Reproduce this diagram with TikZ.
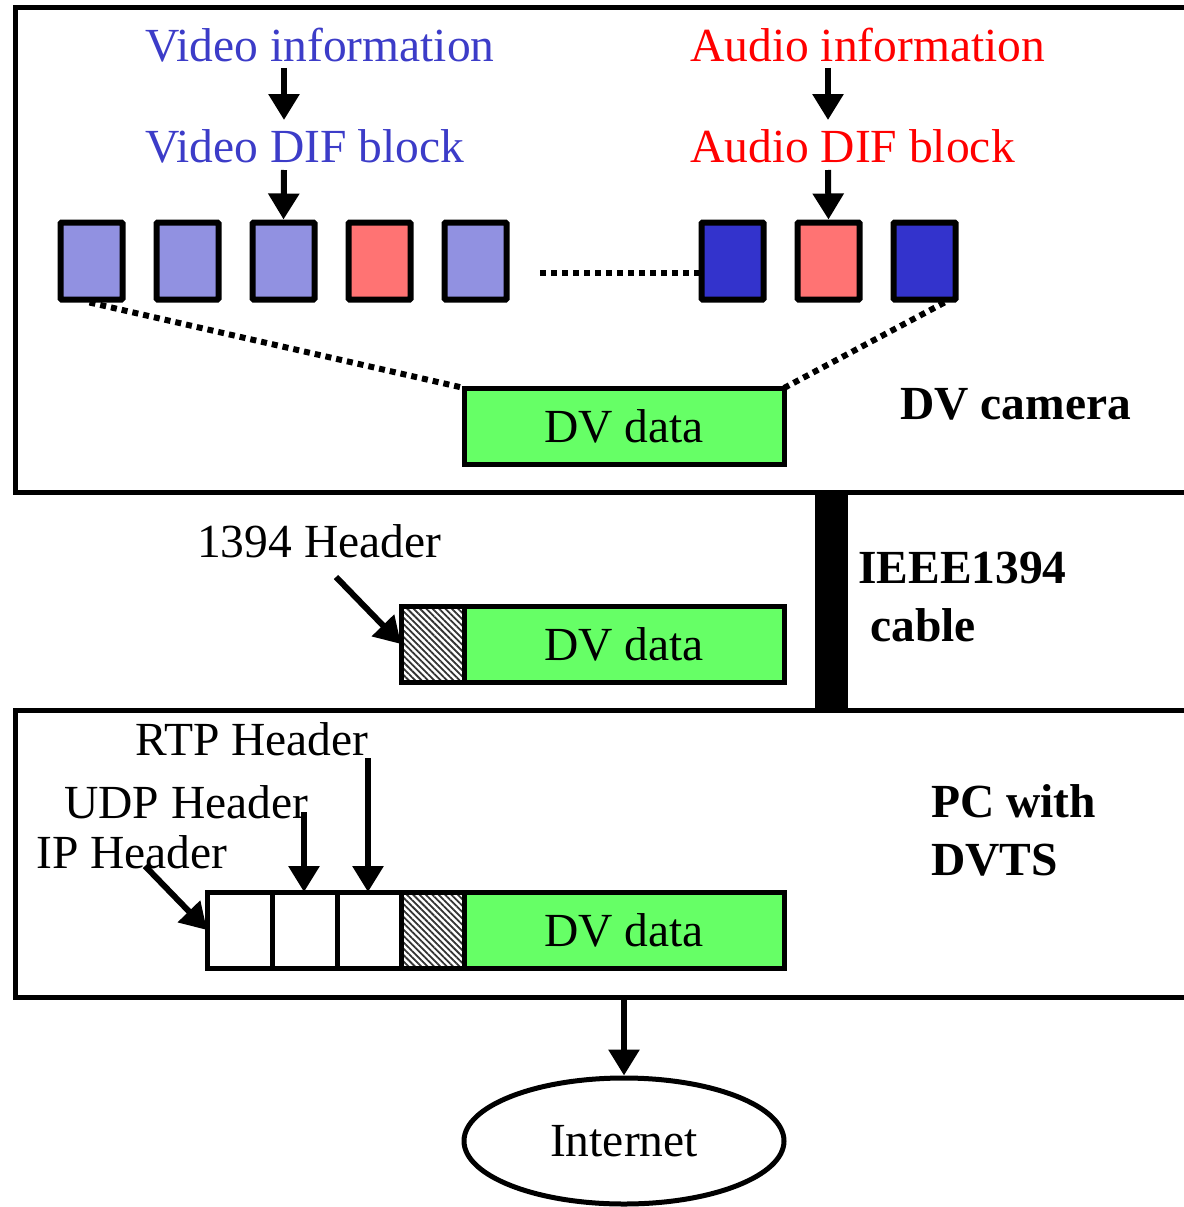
\documentclass[tikz,border=0pt]{standalone}
\usepackage{fontspec}
\setmainfont{Liberation Serif}
\usetikzlibrary{arrows.meta,patterns.meta,shapes.geometric}
\definecolor{vidblue}{RGB}{60,60,200}
\definecolor{dkblue}{RGB}{51,51,204}
\definecolor{ltblue}{RGB}{145,145,225}
\definecolor{ltred}{RGB}{255,115,115}
\definecolor{dvgreen}{RGB}{102,255,102}
\tikzset{
  txt/.style={font=\fontsize{47.5}{50}\selectfont, inner sep=0pt, anchor=base west},
  btxt/.style={txt, font=\fontsize{47.5}{50}\selectfont\bfseries},
  frame/.style={line width=5pt},
  blk/.style={draw, line width=6pt, minimum width=62pt, minimum height=77pt, inner sep=0pt, rounded corners=1pt},
  vblk/.style={blk, fill=ltblue},
  ablk/.style={blk, fill=ltred},
  dblk/.style={blk, fill=dkblue},
  dvbox/.style={draw, line width=5pt, fill=dvgreen, minimum width=320pt, minimum height=76pt, inner sep=0pt,
    outer sep=0pt, font=\fontsize{47.5}{50}\selectfont},
  hdr/.style={draw, line width=5pt, minimum width=63pt, minimum height=76pt, inner sep=0pt, outer sep=0pt},
  hatched/.style={hdr, preaction={fill=white},
    pattern={Lines[angle=-45, distance=4.5pt, line width=1.8pt]}, pattern color=black!80},
  arr/.style={line width=6pt, -{Triangle[width=30pt,length=26pt]}},
  dots/.style={line width=6pt, dash pattern=on 6pt off 5pt},
}
\begin{document}
\begin{tikzpicture}[x=1pt,y=-1pt]
\useasboundingbox (0,0) rectangle (1183,1207);

% frames: DV camera (top) and PC (bottom), running off the right edge
\draw[frame] (1190,8) -- (15,8) -- (15,492) -- (1190,492);
\draw[frame] (1190,710) -- (15,710) -- (15,997) -- (1190,997);

% IEEE1394 cable
\fill (815,490) rectangle (848,712);

% --- DV camera ---
\node[txt, text=vidblue] (vinfo) at (145,62) {Video information};
\node[txt, text=vidblue] (vdif) at (145,162) {Video DIF block};
\node[txt, text=red] (ainfo) at (690,62) {Audio information};
\node[txt, text=red] (adif) at (690,162) {Audio DIF block};

\node[vblk] (b1) at (91.5,261) {};
\node[vblk] (b2) at (187.5,261) {};
\node[vblk] (b3) at (283.5,261) {};
\node[ablk] (b4) at (379.5,261) {};
\node[vblk] (b5) at (475.5,261) {};
\node[dblk] (b6) at (732.5,261) {};
\node[ablk] (b7) at (828.5,261) {};
\node[dblk] (b8) at (924.5,261) {};

\coordinate (vi) at (284,68);
\coordinate (vd) at (284,170);
\coordinate (ai) at (828,68);
\coordinate (ad) at (828,170);
\draw[arr] (vi) -- (284,120);
\draw[arr] (vd) -- (b3.north);
\draw[arr] (ai) -- (828,120);
\draw[arr] (ad) -- (b7.north);

\coordinate (gapL) at (540,273);
\draw[dots] (gapL) -- (b6.west |- gapL);

\node[dvbox] (dv1) at (624,426) {DV data};
\draw[dots] (b1.south) ++(-2,0) -- (dv1.north west);
\draw[dots] (b8.south) ++(20,0) -- (dv1.north east);

\node[btxt] (cam) at (900,419) {DV camera};

% --- IEEE1394 transfer ---
\node[txt] (h1394) at (197,557) {1394 Header};
\node[dvbox] (dv2) at (624,644) {DV data};
\node[hatched, anchor=east] (hc2) at (dv2.west) {};
\coordinate (h1394a) at (336,577);
\draw[arr] (h1394a) -- (hc2.west);
\node[btxt] (ieee) at (858,583) {IEEE1394};
\node[btxt] (cable) at (870,641) {cable};

% --- PC with DVTS ---
\node[dvbox] (dv3) at (624,930) {DV data};
\node[hatched, anchor=east] (hc3) at (dv3.west) {};
\node[hdr, anchor=east, minimum width=64pt] (rtp) at (hc3.west) {};
\node[hdr, anchor=east, minimum width=65pt] (udp) at (rtp.west) {};
\node[hdr, anchor=east, minimum width=65pt] (ip) at (udp.west) {};

\node[txt] (trtp) at (135,755) {RTP Header};
\node[txt] (tudp) at (64,818) {UDP Header};
\node[txt] (tip) at (36,868) {IP Header};
\coordinate (rtpa) at (368,758);
\coordinate (udpa) at (304,812);
\coordinate (ipa) at (145,866);
\draw[arr] (rtpa) -- (rtpa |- rtp.north);
\draw[arr] (udpa) -- (udpa |- udp.north);
\draw[arr] (ipa) -- (ip.west);

\node[btxt] (pc1) at (931,817) {PC with};
\node[btxt] (pc2) at (931,875) {DVTS};

% --- Internet ---
\node[draw, ellipse, line width=5pt, minimum width=320pt, minimum height=126pt, inner sep=0pt,
  font=\fontsize{47.5}{50}\selectfont] (net) at (624,1141) {Internet};
\coordinate (pcout) at (624,997);
\draw[arr] (pcout) -- (net.north);
\end{tikzpicture}
\end{document}
